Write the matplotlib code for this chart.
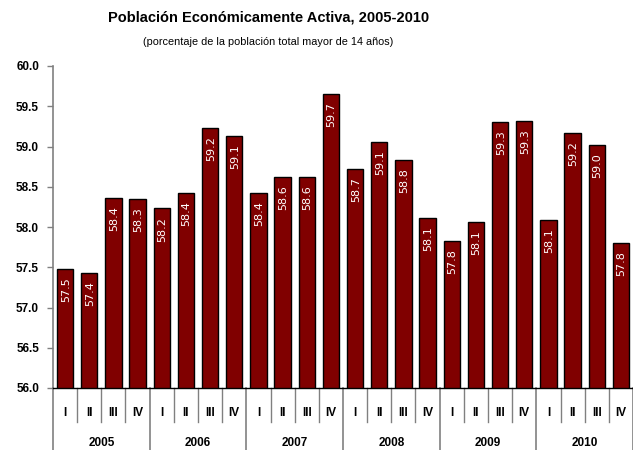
import matplotlib
matplotlib.use("Agg")
import matplotlib.pyplot as plt
import matplotlib.transforms as mtransforms

plt.rcParams['font.family'] = ['Liberation Sans Narrow', 'Liberation Sans', 'DejaVu Sans']

years = ['2005', '2006', '2007', '2008', '2009', '2010']
quarters = ['I', 'II', 'III', 'IV']
# tasa por trimestre
values = [57.48, 57.43, 58.36, 58.35,
          58.23, 58.42, 59.23, 59.13,
          58.42, 58.62, 58.62, 59.65,
          58.72, 59.06, 58.83, 58.11,
          57.83, 58.06, 59.30, 59.32,
          58.09, 59.17, 59.02, 57.80]
labels = ['57.5', '57.4', '58.4', '58.3',
          '58.2', '58.4', '59.2', '59.1',
          '58.4', '58.6', '58.6', '59.7',
          '58.7', '59.1', '58.8', '58.1',
          '57.8', '58.1', '59.3', '59.3',
          '58.1', '59.2', '59.0', '57.8']

BAR_COLOR = '#800000'
YMIN = 56.0

fig = plt.figure(figsize=(6.33, 4.5), dpi=100)
ax = fig.add_axes([53/633., 62/450., 580/633., 322/450.])

x = list(range(len(values)))
heights = [v - YMIN for v in values]
ax.bar(x, heights, bottom=YMIN, width=0.68, color=BAR_COLOR,
       edgecolor='black', linewidth=1.0, zorder=3)

for xi, v, lab in zip(x, values, labels):
    ax.annotate(lab, (xi, v), xytext=(0.5, -6), textcoords='offset points',
                ha='center', va='top', rotation=90, color='white',
                fontsize=8, family='DejaVu Sans', zorder=4)

ax.set_xlim(-0.5, len(values) - 0.5)
ax.set_ylim(YMIN, 60.0)
ax.set_yticks([56.0, 56.5, 57.0, 57.5, 58.0, 58.5, 59.0, 59.5, 60.0])
ax.set_yticklabels(['%.1f' % t for t in ax.get_yticks()],
                   fontsize=8.5, fontweight='bold')
ax.tick_params(axis='y', direction='out', length=4, width=1, color='#808080', pad=6)
ax.set_xticks([])

for s in ['top', 'right']:
    ax.spines[s].set_visible(False)
ax.spines['left'].set_color('#808080')
ax.spines['left'].set_linewidth(1.2)
ax.spines['bottom'].set_color('black')
ax.spines['bottom'].set_linewidth(1.0)

# separadores de trimestres y anos bajo el eje
trans = mtransforms.blended_transform_factory(ax.transData, ax.transAxes)
q_bottom = -(422 - 388) / 322.
y_bottom = -(450 - 388) / 322.
for k in range(len(values) + 1):
    if k % 4 == 0:
        ax.plot([k - 0.5, k - 0.5], [0, y_bottom], transform=trans,
                color='#808080', lw=1.2, clip_on=False)
    else:
        ax.plot([k - 0.5, k - 0.5], [0, q_bottom], transform=trans,
                color='#808080', lw=1.0, clip_on=False)

for k in x:
    ax.text(k, -(413 - 388) / 322., quarters[k % 4], transform=trans,
            ha='center', va='center', fontsize=8.5, fontweight='bold')
for i, yr in enumerate(years):
    ax.text(i * 4 + 1.5, -(443 - 388) / 322., yr, transform=trans,
            ha='center', va='center', fontsize=8.5, fontweight='bold')

fig.text(0.425, 1 - 18/450., u'Población Económicamente Activa, 2005-2010',
         ha='center', va='center', fontsize=10.5, fontweight='bold')
fig.text(0.424, 1 - 42/450., u'(porcentaje de la población total mayor de 14 años)',
         ha='center', va='center', fontsize=7.8)

fig.savefig('out.png', dpi=100)
